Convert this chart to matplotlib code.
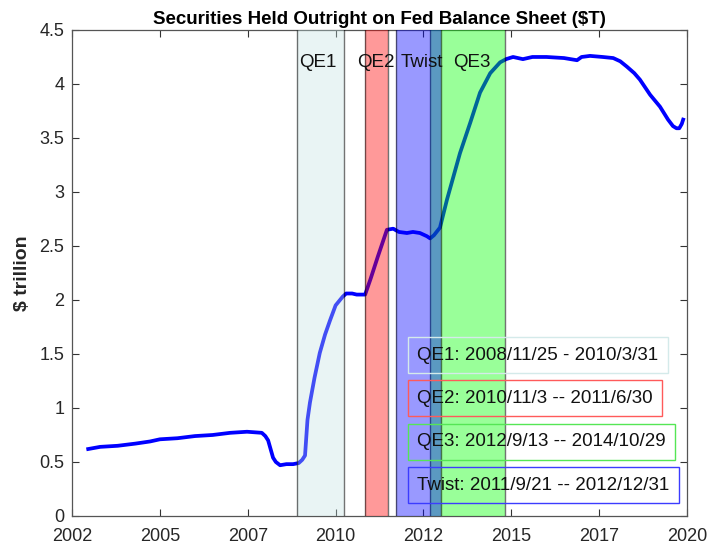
import matplotlib
matplotlib.use("Agg")
import matplotlib.pyplot as plt

plt.rcParams['font.family'] = ['Liberation Sans', 'DejaVu Sans']

# securities held outright (decimal year, $T)
years = [2002.96, 2003.3, 2003.8, 2004.3, 2004.72, 2005.0, 2005.5, 2006.0, 2006.5,
         2007.0, 2007.48, 2007.9, 2008.0, 2008.08, 2008.15, 2008.22, 2008.3, 2008.42,
         2008.6, 2008.79, 2008.95, 2009.05, 2009.13, 2009.2, 2009.27, 2009.4, 2009.55,
         2009.7, 2009.84, 2010.0, 2010.2, 2010.3, 2010.47, 2010.6, 2010.84, 2011.0,
         2011.2, 2011.46, 2011.64, 2011.8, 2012.03, 2012.2, 2012.4, 2012.6, 2012.69,
         2012.8, 2012.97, 2013.17, 2013.54, 2013.83, 2014.11, 2014.4, 2014.68, 2014.85,
         2015.05, 2015.33, 2015.6, 2016.0, 2016.5, 2016.87, 2017.0, 2017.24, 2017.6,
         2017.9, 2018.1, 2018.29, 2018.5, 2018.66, 2018.95, 2019.23, 2019.46, 2019.6,
         2019.7, 2019.78, 2019.85, 2019.89]
held = [0.62, 0.64, 0.65, 0.67, 0.69, 0.71, 0.72, 0.74, 0.75,
        0.77, 0.78, 0.77, 0.74, 0.70, 0.62, 0.54, 0.50, 0.47,
        0.48, 0.48, 0.49, 0.52, 0.56, 0.89, 1.05, 1.28, 1.51,
        1.68, 1.81, 1.95, 2.03, 2.06, 2.06, 2.05, 2.05, 2.20,
        2.40, 2.65, 2.66, 2.63, 2.62, 2.63, 2.62, 2.59, 2.57,
        2.60, 2.67, 2.93, 3.36, 3.64, 3.92, 4.10, 4.20, 4.23,
        4.25, 4.23, 4.25, 4.25, 4.24, 4.22, 4.25, 4.26, 4.25,
        4.24, 4.21, 4.16, 4.10, 4.04, 3.90, 3.79, 3.67, 3.61,
        3.59, 3.59, 3.63, 3.67]

# programs: name, start, end (decimal years), label position, legend text
programs = ["QE1", "QE2", "QE3", "Twist"]
starts = [2008.90, 2010.84, 2012.70, 2011.72]
ends = [2010.25, 2011.49, 2014.83, 2013.00]
label_x = [2009.5, 2011.15, 2013.88, 2012.46]
legend_text = ["QE1: 2008/11/25 - 2010/3/31",
               "QE2: 2010/11/3 -- 2011/6/30",
               "QE3: 2012/9/13 -- 2014/10/29",
               "Twist: 2011/9/21 -- 2012/12/31"]

xticks = [2002.5, 2005, 2007.5, 2010, 2012.5, 2015, 2017.5, 2020]
xticklabels = ["2002", "2005", "2007", "2010", "2012", "2015", "2017", "2020"]
yticks = [0, 0.5, 1, 1.5, 2, 2.5, 3, 3.5, 4, 4.5]

fills = ["#c0e0e0", "#ff0000", "#00ff00", "#0000ff"]
fill_alpha = [0.35, 0.4, 0.4, 0.4]
boxcol = ["#d4eaea", "#ff5a5a", "#55e655", "#3c3cff"]

fig = plt.figure(figsize=(7.09, 5.47), dpi=100)
ax = fig.add_axes([0.1016, 0.0567, 0.8674, 0.8885])

ax.plot(years, held, color="#0000ff", lw=2.7, zorder=2)

for i, name in enumerate(programs):
    ax.axvspan(starts[i], ends[i], facecolor=fills[i], alpha=fill_alpha[i],
               edgecolor="none", zorder=3)
    for xe in (starts[i], ends[i]):
        ax.axvline(xe, color="black", alpha=0.55, lw=1, zorder=3)
    ax.text(label_x[i], 4.2, name, ha="center", va="center",
            fontsize=13.5, color="#111111", zorder=5)

ybox = [0.331, 0.242, 0.153, 0.063]
for i, txt in enumerate(legend_text):
    ax.text(0.561, ybox[i], txt, transform=ax.transAxes, ha="left", va="center",
            fontsize=13.5, color="#111111", zorder=6,
            bbox=dict(boxstyle="square,pad=0.5", facecolor="none",
                      edgecolor=boxcol[i], lw=1))

ax.set_xlim(2002.5, 2020)
ax.set_ylim(0, 4.5)
ax.set_xticks(xticks)
ax.set_xticklabels(xticklabels)
ax.set_yticks(yticks)
ax.set_yticklabels(["0", "0.5", "1", "1.5", "2", "2.5", "3", "3.5", "4", "4.5"])
ax.tick_params(direction="in", length=5, width=0.8, top=True, right=True,
               labelsize=13, colors="#333333", labelcolor="#262626")
ax.tick_params(axis="x", pad=9)
ax.tick_params(axis="y", pad=5.5)
for s in ax.spines.values():
    s.set_color("#555555")
    s.set_linewidth(0.9)

ax.set_ylabel("$ trillion", fontsize=14, fontweight="bold", color="#262626", labelpad=6)
ax.set_title("Securities Held Outright on Fed Balance Sheet ($T)", fontsize=13.5,
             fontweight="bold", color="black", pad=4)

fig.savefig("out.png", dpi=100, facecolor="white")
